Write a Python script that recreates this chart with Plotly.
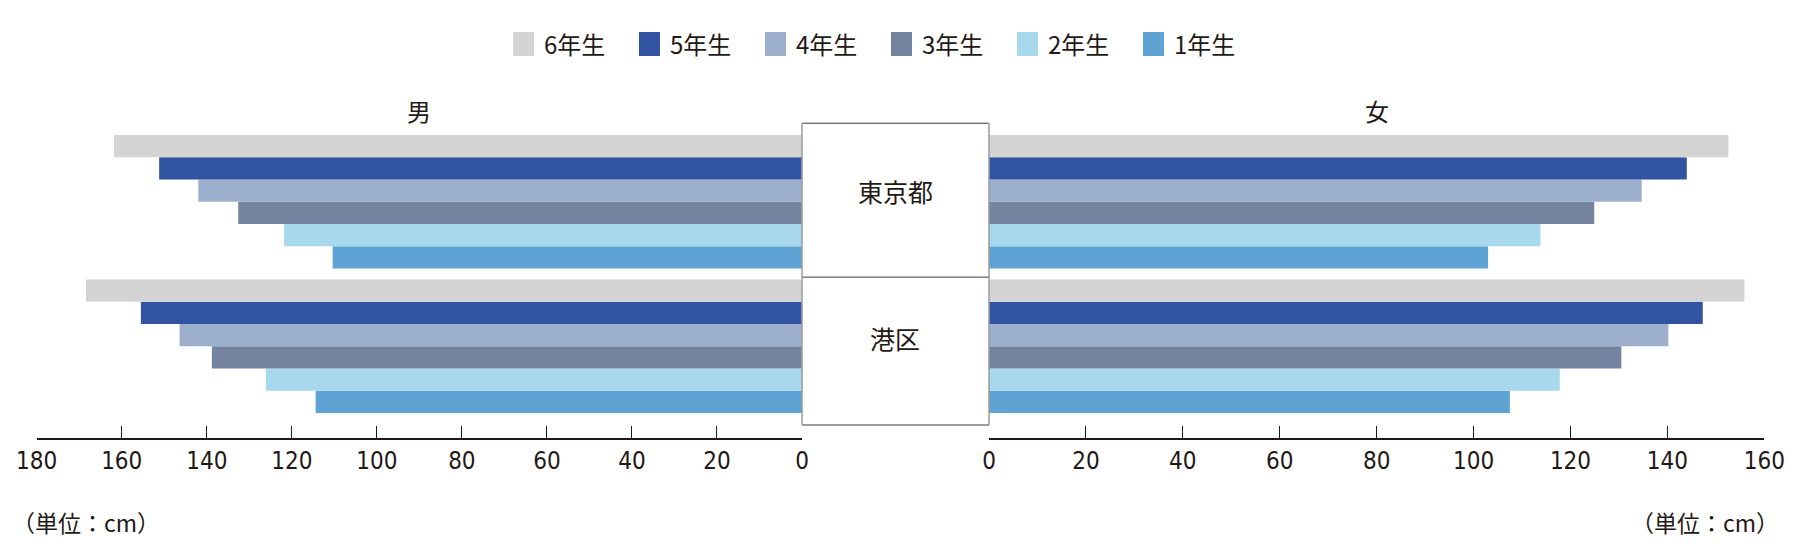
import plotly.graph_objects as go

# ---- data ----
grades = ["6年生", "5年生", "4年生", "3年生", "2年生", "1年生"]
regions = ["東京都", "港区"]
region_pos = [1, 0]
male_tokyo = [161.8, 151.2, 142.0, 132.6, 121.8, 110.4]
male_minato = [168.4, 155.5, 146.4, 138.8, 126.1, 114.4]
female_tokyo = [152.6, 144.0, 134.7, 124.9, 113.8, 103.0]
female_minato = [155.9, 147.3, 140.2, 130.5, 117.8, 107.5]
colors = ["#D4D4D4", "#3253A2", "#9CB0CE", "#74839F", "#A8D8EE", "#5EA3D4"]
left_ticks = [180, 160, 140, 120, 100, 80, 60, 40, 20, 0]
right_ticks = [0, 20, 40, 60, 80, 100, 120, 140, 160]

W, H = 1800, 559
TXT = "#231815"
NUM_FONT = "Liberation Sans Narrow, Arial Narrow, DejaVu Sans Condensed, sans-serif"
CJK_FONT = "Noto Sans CJK JP, Noto Sans, sans-serif"

fig = go.Figure()

# traces in reverse so 6年生 is on top of each group
for i in reversed(range(len(grades))):
    fig.add_trace(go.Bar(
        y=region_pos, x=[male_tokyo[i], male_minato[i]], orientation="h",
        marker=dict(color=colors[i], line=dict(width=0)),
        xaxis="x", yaxis="y", name=grades[i], showlegend=False))
for i in reversed(range(len(grades))):
    fig.add_trace(go.Bar(
        y=region_pos, x=[female_tokyo[i], female_minato[i]], orientation="h",
        marker=dict(color=colors[i], line=dict(width=0)),
        xaxis="x2", yaxis="y", name=grades[i], showlegend=False))

lx0, lx1 = 36.7, 802.0
rx0, rx1 = 989.0, 1764.3
y_top_px, y_bot_px = 80.0, 438.0

axis_common = dict(
    showgrid=False, zeroline=False, showline=True, linecolor=TXT, linewidth=1.5,
    ticks="inside", ticklen=12, tickwidth=1, tickcolor=TXT,
    tickfont=dict(family=NUM_FONT, size=24, color=TXT),
    ticklabelstandoff=0, fixedrange=True, automargin=False,
)

fig.update_layout(
    width=W, height=H,
    margin=dict(l=0, r=0, t=0, b=0, pad=0, autoexpand=False),
    paper_bgcolor="white", plot_bgcolor="white",
    barmode="group", bargap=0.076, bargroupgap=0,
    showlegend=False,
    xaxis=dict(domain=[lx0 / W, lx1 / W], range=[180, 0],
               tickvals=left_ticks, anchor="y", **axis_common),
    xaxis2=dict(domain=[rx0 / W, rx1 / W], range=[0, 160],
                tickvals=right_ticks, anchor="y", **axis_common),
    yaxis=dict(domain=[1 - y_bot_px / H, 1 - y_top_px / H],
               range=[-0.635, 1.842], visible=False, fixedrange=True,
               automargin=False),
)

# center boxes
bx0, bx1 = lx1 / W, rx0 / W
shapes = []
for yv in (1.543, 0.478, -0.545):
    shapes.append(dict(type="line", xref="paper", yref="y", x0=bx0, x1=bx1,
                       y0=yv, y1=yv, line=dict(color="#3a3a3a", width=1)))
for xv in (bx0, bx1):
    shapes.append(dict(type="line", xref="paper", yref="y", x0=xv, x1=xv,
                       y0=-0.545, y1=1.543, line=dict(color="#9a9a9a", width=1.5)))

annotations = []
for name, yv, ys in zip(regions, region_pos, [11, 8]):
    annotations.append(dict(xref="paper", yref="y", x=(bx0 + bx1) / 2, y=yv,
                            yshift=ys, yanchor="middle", text=name, showarrow=False,
                            font=dict(family=CJK_FONT, size=25, color=TXT)))

# 男 / 女
annotations.append(dict(xref="x", yref="paper", x=90, y=1 - 111 / H, yanchor="middle",
                        text="男", showarrow=False,
                        font=dict(family=CJK_FONT, size=24, color=TXT)))
annotations.append(dict(xref="x2", yref="paper", x=80, y=1 - 111 / H, yanchor="middle",
                        text="女", showarrow=False,
                        font=dict(family=CJK_FONT, size=24, color=TXT)))

# unit labels
annotations.append(dict(xref="paper", yref="paper", x=10 / W, y=1 - 522 / H,
                        xanchor="left", yanchor="middle", text="（単位：cm）",
                        showarrow=False, font=dict(family=CJK_FONT, size=23, color=TXT)))
annotations.append(dict(xref="paper", yref="paper", x=1781 / W, y=1 - 522 / H,
                        xanchor="right", yanchor="middle", text="（単位：cm）",
                        showarrow=False, font=dict(family=CJK_FONT, size=23, color=TXT)))

# manual legend
leg_x0, leg_pitch, leg_yc = 513, 126, 44
for i, g in enumerate(grades):
    sx = leg_x0 + leg_pitch * i
    shapes.append(dict(type="rect", xref="paper", yref="paper",
                       x0=sx / W, x1=(sx + 21) / W,
                       y0=1 - (leg_yc + 12) / H, y1=1 - (leg_yc - 12) / H,
                       line=dict(width=0), fillcolor=colors[i]))
    annotations.append(dict(xref="paper", yref="paper", x=(sx + 29) / W,
                            y=1 - leg_yc / H, xanchor="left", yanchor="middle",
                            text=g, showarrow=False,
                            font=dict(family=CJK_FONT, size=24, color=TXT)))

fig.update_layout(shapes=shapes, annotations=annotations)
fig.write_html("out.html")
